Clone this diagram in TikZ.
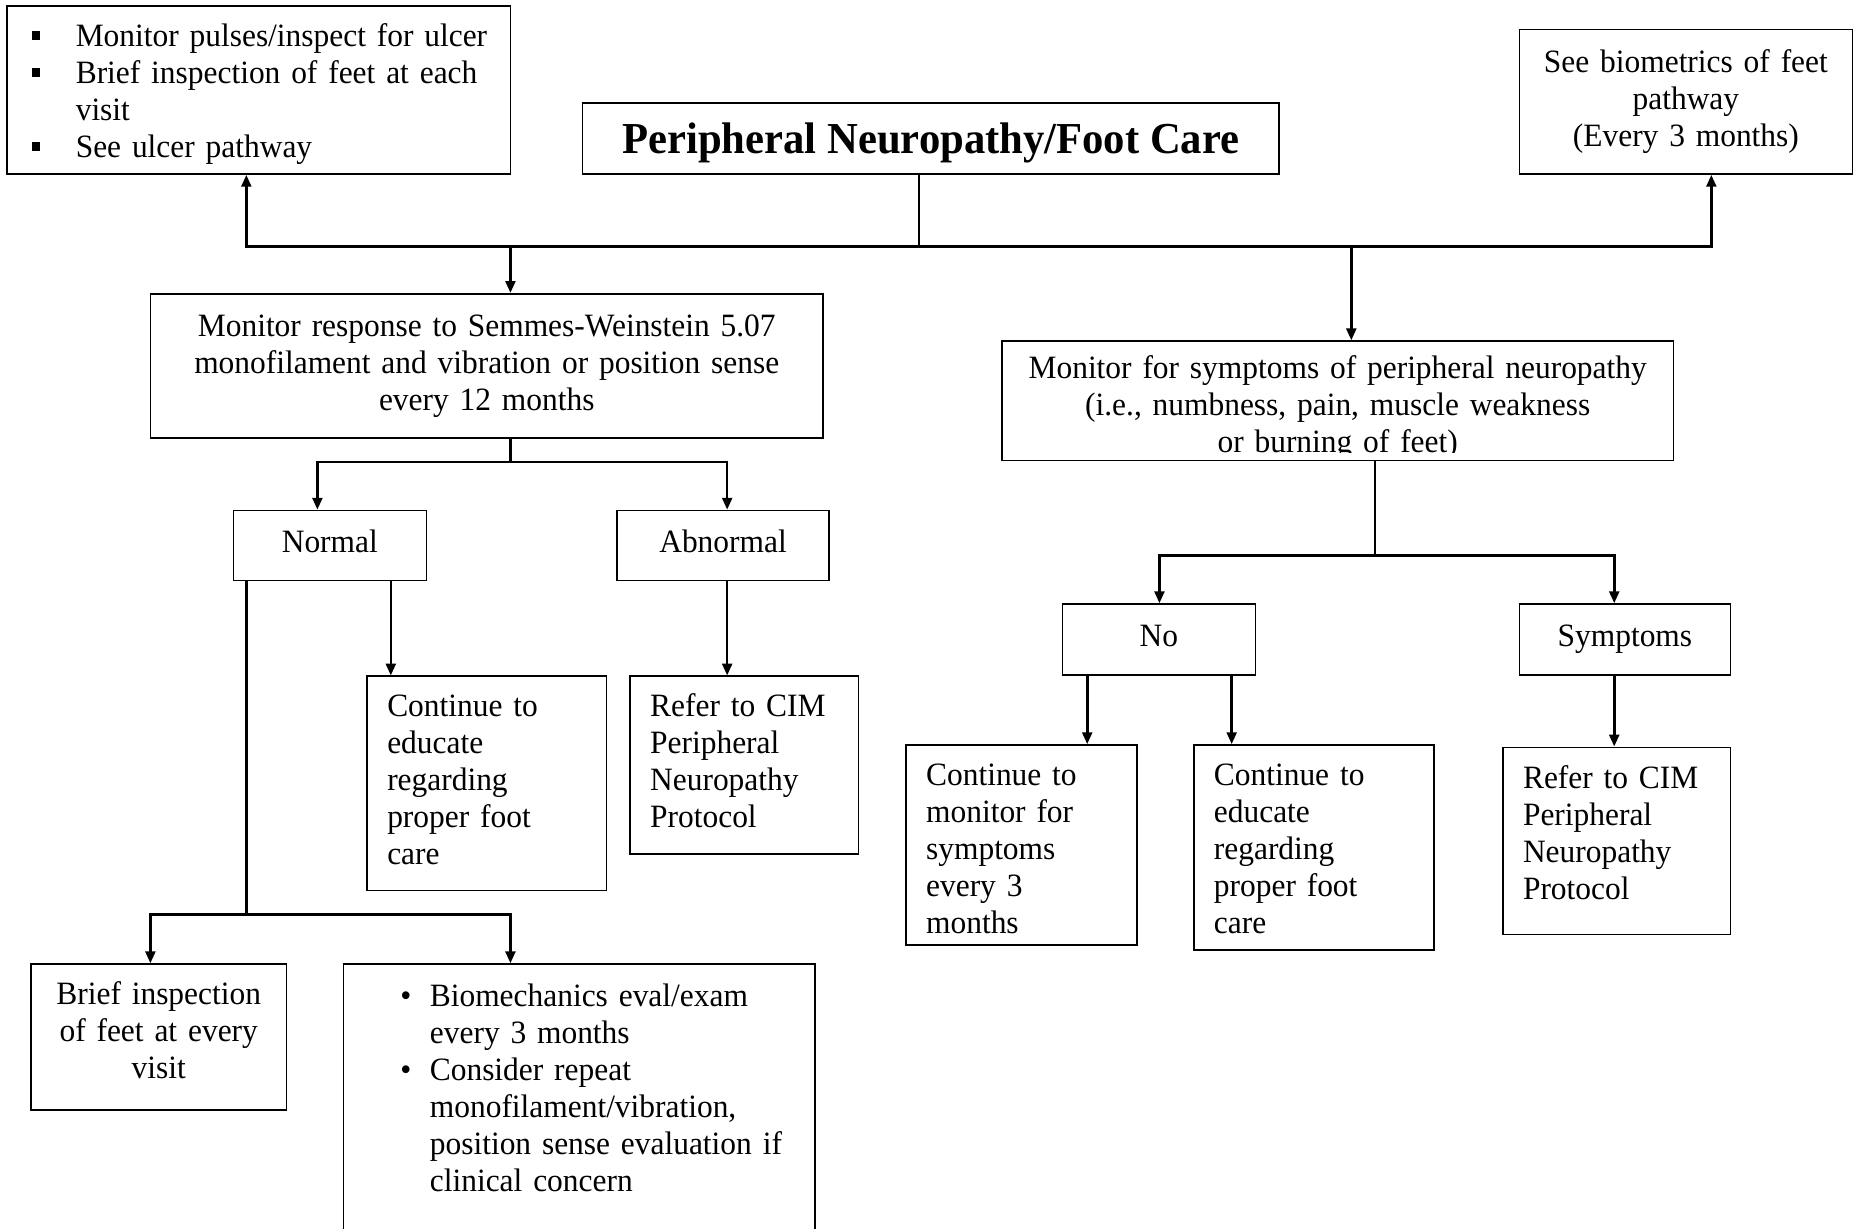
\documentclass[tikz,border=0pt]{standalone}
\usepackage{fontspec}
\setmainfont[FakeStretch=0.965]{Liberation Serif}
\usetikzlibrary{arrows.meta}
\newcommand\bodyfont{\fontsize{16.5}{18.75}\selectfont}
\newcommand\sqbul{\makebox[22.2pt][l]{\rule[3.2pt]{4.2pt}{4.2pt}}}
\newcommand\rdbul{\makebox[15pt][l]{\textbullet}}
% left-aligned block of lines, set in from the left edge of its box;
% the optional argument raises the block without changing the box size
\newcommand\inset[3][0pt]{\hspace*{#2}\raisebox{#1}[\height][\depth]{\begin{tabular}{@{}l@{}}#3\end{tabular}}}
\newcommand\centred[2][0pt]{\raisebox{#1}[\height][\depth]{\begin{tabular}{@{}c@{}}#2\end{tabular}}}

\begin{document}
\begin{tikzpicture}[x=0.6pt,y=-0.6pt,
  box/.style={draw, line width=0.8pt, inner sep=0pt, font=\bodyfont},
  link/.style={line width=1.3pt, line cap=rect},
  arr/.style={line width=1.3pt, -{Triangle[length=6pt,width=5pt]}}]
\clip (0,0) rectangle (1568,1037);
\fill[white] (0,0) rectangle (1568,1037);

% ---- top row ----
\node[box, minimum width=255pt, minimum height=85.2pt, text width=255pt, align=left] (tl) at (218.5,76)
  {\inset[-2.1pt]{12.6pt}{\sqbul Monitor pulses/inspect for ulcer\\
   \sqbul Brief inspection of feet at each\\
   \hspace*{22.2pt}visit\\
   \sqbul See ulcer pathway}};
\node[box, minimum width=352.8pt, minimum height=36pt, text height=17pt, text depth=2pt,
      font=\fontsize{22.4}{25}\selectfont\bfseries] (title) at (786,117)
  {Peripheral Neuropathy/Foot Care};
\node[box, minimum width=168.6pt, minimum height=73.2pt, text width=168.6pt, align=center] (tr) at (1423.5,86)
  {See biometrics of feet\\pathway\\(Every 3 months)};

% ---- second row ----
\node[box, minimum width=340.8pt, minimum height=73.2pt, text width=340.8pt, align=center] (semmes) at (411,309)
  {Monitor response to Semmes-Weinstein 5.07\\monofilament and vibration or position sense\\every 12 months};
\node[box, minimum width=340.2pt, minimum height=60.6pt, text width=340.2pt, align=center] (rmon) at (1129.5,338.5)
  {\rule{0pt}{18.6pt}Monitor for symptoms of peripheral neuropathy\\(i.e., numbness, pain, muscle weakness\\or burning of feet)};
% the last line is cut off by the lower edge of the box
\fill[white] (847.5,382.6) rectangle (1411.5,388.3);

% ---- results ----
\node[box, minimum width=97.8pt, minimum height=35.4pt] (normal) at (278.5,460.5) {\strut Normal};
\node[box, minimum width=107.4pt, minimum height=35.4pt] (abnormal) at (610.5,460.5) {\strut Abnormal};
\node[box, minimum width=97.8pt, minimum height=36pt] (no) at (978.5,540) {\strut No};
\node[box, minimum width=106.8pt, minimum height=36pt] (symp) at (1372,540) {\strut Symptoms};

% ---- actions ----
\node[box, minimum width=121.2pt, minimum height=108.6pt, text width=121.2pt, align=left] (cont1) at (411,661.5)
  {\inset{10.2pt}{Continue to\\educate\\regarding\\proper foot\\care}};
\node[box, minimum width=115.8pt, minimum height=90pt, text width=115.8pt, align=left] (refer1) at (628.5,646)
  {\inset{10.2pt}{Refer to CIM\\Peripheral\\Neuropathy\\Protocol}};
\node[box, minimum width=117pt, minimum height=101.4pt, text width=117pt, align=left] (cont2) at (862.5,713.5)
  {\inset[-3.6pt]{10.2pt}{Continue to\\monitor for\\symptoms\\every 3\\months}};
\node[box, minimum width=121.8pt, minimum height=103.8pt, text width=121.8pt, align=left] (cont3) at (1109.5,715.5)
  {\inset[-2.4pt]{10.2pt}{Continue to\\educate\\regarding\\proper foot\\care}};
\node[box, minimum width=115.2pt, minimum height=94.8pt, text width=115.2pt, align=left] (refer2) at (1365,710)
  {\inset[2.4pt]{10.2pt}{Refer to CIM\\Peripheral\\Neuropathy\\Protocol}};
\node[box, minimum width=129.6pt, minimum height=73.8pt, text width=129.6pt, align=center] (brief) at (134,875.5)
  {\centred[1.2pt]{Brief inspection\\of feet at every\\visit}};
\node[box, minimum width=238.8pt, minimum height=144pt, text width=238.8pt, align=left] (biomech) at (489,934)
  {\inset[-1.8pt]{28.8pt}{\rdbul Biomechanics eval/exam\\
   \hspace*{15pt}every 3 months\\
   \rdbul Consider repeat\\
   \hspace*{15pt}monofilament/vibration,\\
   \hspace*{15pt}position sense evaluation if\\
   \hspace*{15pt}clinical concern\\
   \mbox{}}};

% ---- junction points ----
\coordinate (j1) at (776,208);
\coordinate (jL) at (208,208);
\coordinate (jR) at (1445,208);
\coordinate (jS) at (431,208);
\coordinate (jM) at (1141,208);
\coordinate (k0) at (431,390);
\coordinate (kL) at (268,390);
\coordinate (kR) at (614,390);
\coordinate (n1) at (330,530);
\coordinate (n2) at (208,772);
\coordinate (bL) at (127,772);
\coordinate (bR) at (431,772);
\coordinate (a1) at (614,530);
\coordinate (m0) at (1161,469);
\coordinate (mL) at (979,469);
\coordinate (mR) at (1363,469);
\coordinate (o1) at (918,600);
\coordinate (o2) at (1040,600);
\coordinate (s1) at (1363,600);

% ---- connectors ----
\draw[link] (title.south -| j1) -- (j1);
\draw[link] (jL) -- (jR);
\draw[arr] (jL) -- (jL |- tl.south);
\draw[arr] (jR) -- (jR |- tr.south);
\draw[arr] (jS) -- (jS |- semmes.north);
\draw[arr] (jM) -- (jM |- rmon.north);

\draw[link] (semmes.south -| k0) -- (k0);
\draw[link] (kL) -- (kR);
\draw[arr] (kL) -- (kL |- normal.north);
\draw[arr] (kR) -- (kR |- abnormal.north);

\draw[arr] (n1 |- normal.south) -- (n1 |- cont1.north);
\draw[link] (n2 |- normal.south) -- (n2);
\draw[link] (bL) -- (bR);
\draw[arr] (bL) -- (bL |- brief.north);
\draw[arr] (bR) -- (bR |- biomech.north);
\draw[arr] (a1 |- abnormal.south) -- (a1 |- refer1.north);

\draw[link] (rmon.south -| m0) -- (m0);
\draw[link] (mL) -- (mR);
\draw[arr] (mL) -- (mL |- no.north);
\draw[arr] (mR) -- (mR |- symp.north);
\draw[arr] (o1 |- no.south) -- (o1 |- cont2.north);
\draw[arr] (o2 |- no.south) -- (o2 |- cont3.north);
\draw[arr] (s1 |- symp.south) -- (s1 |- refer2.north);
\end{tikzpicture}
\end{document}
